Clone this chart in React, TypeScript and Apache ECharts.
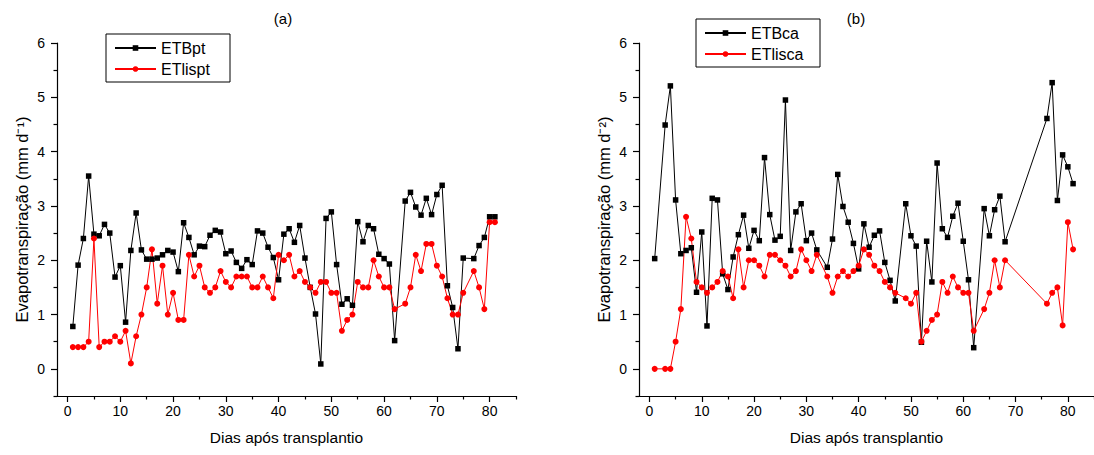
import React, { useEffect, useRef } from "react";
import * as echarts from "echarts";

const daysA = [
  1, 2, 3, 4, 5, 6, 7, 8, 9, 10, 11, 12, 13, 14, 15, 16, 17, 18, 19, 20, 21, 22, 23, 24, 25, 26, 27, 28, 29, 30, 31,
  32, 33, 34, 35, 36, 37, 38, 39, 40, 41, 42, 43, 44, 45, 46, 47, 48, 49, 50, 51, 52, 53, 54, 55, 56, 57, 58, 59, 60, 61, 62,
  64, 65, 66, 67, 68, 69, 70, 71, 72, 73, 74, 75,
  77, 78, 79, 80, 81,
];
const etbpt = [
  0.78, 1.91, 2.4, 3.55, 2.48, 2.45, 2.66, 2.5, 1.69, 1.9, 0.86, 2.18, 2.87, 2.19, 2.02, 2.02, 2.04, 2.1, 2.18, 2.15, 1.79, 2.69, 2.42, 2.1, 2.26, 2.25, 2.46, 2.55, 2.52, 2.12, 2.17,
  1.96, 1.85, 2.01, 1.92, 2.54, 2.5, 2.24, 2.05, 1.64, 2.48, 2.58, 2.33, 2.64, 2.04, 1.5, 1.01, 0.09, 2.77, 2.89, 1.92, 1.19, 1.29, 1.17, 2.71, 2.34, 2.64, 2.58, 2.11, 2.03, 1.93, 0.52,
  3.09, 3.25, 2.98, 2.83, 3.14, 2.84, 3.21, 3.38, 1.53, 1.13, 0.37, 2.04,
  2.03, 2.27, 2.42, 2.8, 2.8,
];
const etlispt = [
  0.4, 0.4, 0.4, 0.5, 2.4, 0.4, 0.5, 0.5, 0.6, 0.5, 0.7, 0.1, 0.6, 1.0, 1.5, 2.2, 1.2, 1.9, 1.0, 1.4, 0.9, 0.9, 2.1, 1.7, 1.9, 1.5, 1.4, 1.5, 1.8, 1.6, 1.5,
  1.7, 1.7, 1.7, 1.5, 1.5, 1.7, 1.5, 1.3, 2.1, 2.0, 2.1, 1.7, 1.8, 1.6, 1.5, 1.4, 1.6, 1.6, 1.4, 1.4, 0.7, 0.9, 1.0, 1.6, 1.5, 1.5, 2.0, 1.7, 1.5, 1.5, 1.1,
  1.2, 1.5, 2.1, 1.8, 2.3, 2.3, 1.9, 1.7, 1.3, 1.0, 1.0, 1.4,
  1.8, 1.5, 1.1, 2.7, 2.7,
];

const daysB = [
  1,
  3, 4, 5, 6, 7, 8, 9, 10, 11, 12, 13, 14, 15, 16, 17, 18, 19, 20, 21, 22, 23, 24, 25, 26, 27, 28, 29, 30, 31, 32,
  34, 35, 36, 37, 38, 39, 40, 41, 42, 43, 44, 45, 46, 47,
  49, 50, 51, 52, 53, 54, 55, 56, 57, 58, 59, 60, 61, 62,
  64, 65, 66, 67, 68,
  76, 77, 78, 79, 80, 81,
];
const etbca = [
  2.03,
  4.49, 5.21, 3.11, 2.12, 2.18, 2.23, 1.41, 2.52, 0.79, 3.14, 3.11, 1.75, 1.46, 2.06, 2.47, 2.83, 2.22, 2.55, 2.36, 3.89, 2.84, 2.37, 2.44, 4.95, 2.18, 2.89, 3.04, 2.36, 2.5, 2.19,
  1.87, 2.39, 3.58, 2.99, 2.7, 2.31, 1.84, 2.67, 2.24, 2.46, 2.54, 1.96, 1.63, 1.25,
  3.04, 2.45, 2.26, 0.49, 2.35, 1.6, 3.79, 2.58, 2.42, 2.81, 3.05, 2.35, 1.64, 0.39,
  2.95, 2.45, 2.93, 3.18, 2.34,
  4.61, 5.27, 3.1, 3.94, 3.72, 3.41,
];
const etlisca = [
  0,
  0, 0, 0.5, 1.1, 2.8, 2.4, 1.6, 1.5, 1.4, 1.5, 1.6, 1.8, 1.7, 1.3, 2.2, 1.5, 2.0, 2.0, 1.9, 1.7, 2.1, 2.1, 2.0, 1.9, 1.7, 1.8, 2.2, 2.0, 1.8, 2.1,
  1.7, 1.4, 1.7, 1.8, 1.7, 1.8, 1.9, 2.2, 2.1, 1.9, 1.8, 1.6, 1.5, 1.4,
  1.3, 1.2, 1.4, 0.5, 0.7, 0.9, 1.0, 1.6, 1.4, 1.7, 1.5, 1.4, 1.4, 0.7,
  1.1, 1.4, 2.0, 1.5, 2.0,
  1.2, 1.4, 1.5, 0.8, 2.7, 2.2,
];

const xMajorTicks = [0, 10, 20, 30, 40, 50, 60, 70, 80];
const xMinorTicks = [5, 15, 25, 35, 45, 55, 65, 75, 85];
const yMajorTicks = [0, 1, 2, 3, 4, 5, 6];
const yMinorTicks = [-0.5, 0.5, 1.5, 2.5, 3.5, 4.5, 5.5];

const legendA = ["ETBpt", "ETlispt"];
const legendB = ["ETBca", "ETlisca"];
const titles = ["(a)", "(b)"];
const xName = "Dias após transplantio";
const yNames = ["Evapotranspiração (mm d⁻¹)", "Evapotranspiração (mm d⁻²)"];

const FONT = "'Liberation Sans', Arial, sans-serif";

export default function App() {
  const ref = useRef<HTMLDivElement>(null);
  useEffect(() => {
    if (!ref.current) return;
    const chart = echarts.init(ref.current, null, { renderer: "svg" });
    const grids = [
      { left: 57, top: 43, width: 459, height: 353 },
      { left: 639, top: 43, width: 458, height: 353 },
    ];
    const xAxes: any[] = [];
    const yAxes: any[] = [];
    [0, 1].forEach((g) => {
      xAxes.push({
        type: "value",
        gridIndex: g,
        min: -2,
        max: 85,
        position: "bottom",
        name: xName,
        nameLocation: "middle",
        nameGap: 33,
        nameTextStyle: { fontFamily: FONT, fontSize: 15.5, color: "#000" },
        axisLine: { show: true, onZero: false, lineStyle: { color: "#000", width: 1.2 } },
        axisTick: { show: true, inside: false, length: 6, customValues: xMajorTicks, lineStyle: { color: "#000", width: 1.2 } },
        axisLabel: { customValues: xMajorTicks, margin: 8, fontFamily: FONT, fontSize: 14, color: "#000" },
        splitLine: { show: false },
      });
      xAxes.push({
        type: "value",
        gridIndex: g,
        min: -2,
        max: 85,
        position: "bottom",
        offset: 0,
        axisLine: { show: false, onZero: false },
        axisTick: { show: true, inside: false, length: 3.5, customValues: xMinorTicks, lineStyle: { color: "#000", width: 1.2 } },
        axisLabel: { show: false },
        splitLine: { show: false },
      });
      yAxes.push({
        type: "value",
        gridIndex: g,
        min: -0.5,
        max: 6,
        position: "left",
        name: yNames[g],
        nameLocation: "middle",
        nameRotate: 90,
        nameGap: 27,
        nameTextStyle: { fontFamily: FONT, fontSize: 16.5, color: "#000" },
        axisLine: { show: true, onZero: false, lineStyle: { color: "#000", width: 1.2 } },
        axisTick: { show: true, inside: false, length: 6, customValues: yMajorTicks, lineStyle: { color: "#000", width: 1.2 } },
        axisLabel: { customValues: yMajorTicks, margin: 12, fontFamily: FONT, fontSize: 14, color: "#000" },
        splitLine: { show: false },
      });
      yAxes.push({
        type: "value",
        gridIndex: g,
        min: -0.5,
        max: 6,
        position: "left",
        offset: 0,
        axisLine: { show: false, onZero: false },
        axisTick: { show: true, inside: false, length: 3.5, customValues: yMinorTicks, lineStyle: { color: "#000", width: 1.2 } },
        axisLabel: { show: false },
        splitLine: { show: false },
      });
    });

    const mk = (name: string, days: number[], vals: number[], g: number, black: boolean) => ({
      name,
      type: "line",
      xAxisIndex: g * 2,
      yAxisIndex: g * 2,
      data: days.map((d, i) => [d, vals[i]]),
      symbol: black ? "rect" : "circle",
      symbolSize: black ? 5.5 : 6,
      showSymbol: true,
      color: black ? "#000000" : "#ff0000",
      itemStyle: { color: black ? "#000000" : "#ff0000" },
      lineStyle: { color: black ? "#000000" : "#ff0000", width: 1 },
      emphasis: { disabled: true },
    });

    const legendCommon = {
      orient: "vertical",
      itemWidth: 41,
      itemHeight: 7,
      itemGap: 5,
      borderColor: "#000",
      borderWidth: 1,
      borderRadius: 0,
      padding: [6, 8, 5, 8],
      textStyle: { fontFamily: FONT, fontSize: 16, color: "#000", lineHeight: 16, width: 61 },
      selectedMode: false,
    };

    chart.setOption({
      animation: false,
      backgroundColor: "#ffffff",
      grid: grids,
      xAxis: xAxes,
      yAxis: yAxes,
      legend: [
        { ...legendCommon, data: legendA, left: 106, top: 34 },
        { ...legendCommon, data: legendB, left: 696, top: 19 },
      ],
      graphic: [
        { type: "text", x: 283, y: 18, style: { text: titles[0], fontFamily: FONT, fontSize: 15, fill: "#000", textAlign: "center", textVerticalAlign: "middle" } },
        { type: "text", x: 856, y: 18, style: { text: titles[1], fontFamily: FONT, fontSize: 15, fill: "#000", textAlign: "center", textVerticalAlign: "middle" } },
      ],
      series: [
        mk(legendA[0], daysA, etbpt, 0, true),
        mk(legendA[1], daysA, etlispt, 0, false),
        mk(legendB[0], daysB, etbca, 1, true),
        mk(legendB[1], daysB, etlisca, 1, false),
      ],
    });
    return () => chart.dispose();
  }, []);
  return <div ref={ref} style={{ position: "fixed", left: 0, top: 0, width: 1094, height: 455 }} />;
}
